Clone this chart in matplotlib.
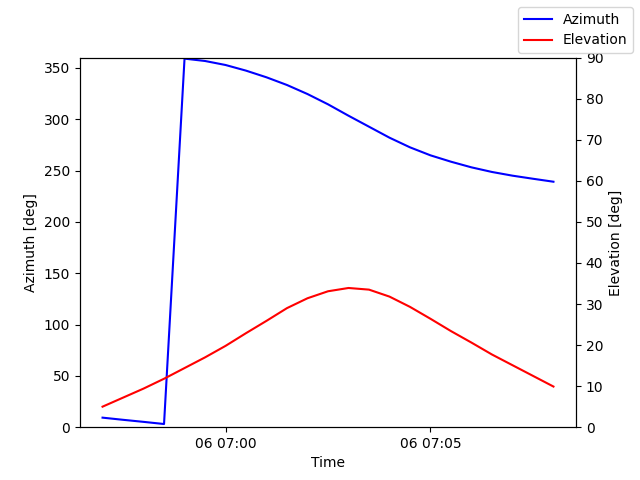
import numpy as np
import pandas as pd
import matplotlib
matplotlib.use('Agg')
import matplotlib.pyplot as plt

# pass sampled every 30 s
times = pd.date_range('2024-01-06 06:57:00', '2024-01-06 07:08:00', freq='30s')

azimuth = [9.3, 7.2, 5.2, 3.1, 359.0, 356.7, 352.8, 347.3, 340.8, 333.3,
           324.5, 314.5, 303.4, 292.7, 282.0, 272.6, 264.8, 258.6, 253.1,
           248.6, 245.0, 242.0, 239.1]
elevation = [5.0, 7.2, 9.4, 11.8, 14.4, 17.0, 19.8, 22.9, 25.9, 29.0,
             31.4, 33.1, 33.9, 33.5, 31.8, 29.3, 26.4, 23.4, 20.6, 17.7,
             15.1, 12.5, 9.9]

fig, ax1 = plt.subplots(figsize=(6.4, 4.8), dpi=100)
ax1.plot(times, azimuth, 'b', label='Azimuth')
ax1.set_ylim(0, 360)
ax1.set_xlabel('Time')
ax1.set_ylabel('Azimuth [deg]')

ax2 = ax1.twinx()
ax2.plot(times, elevation, 'r', label='Elevation')
ax2.set_ylim(0, 90)
ax2.set_ylabel('Elevation [deg]')

fig.legend()
fig.savefig('out.png')
